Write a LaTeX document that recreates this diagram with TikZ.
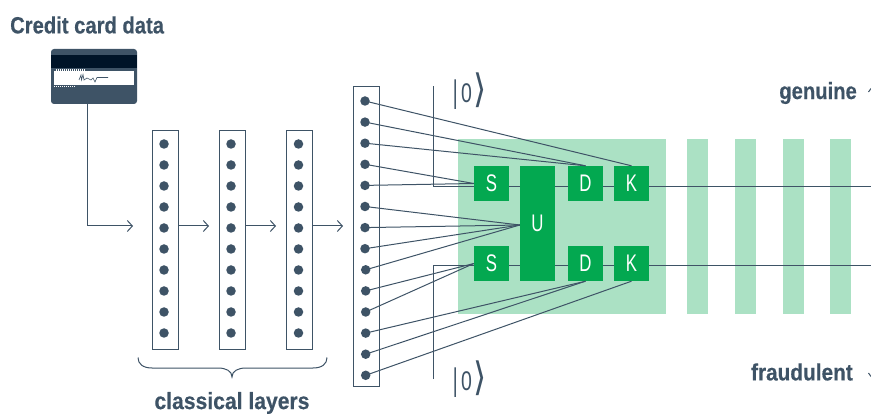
\documentclass[tikz,border=0pt]{standalone}
\usepackage{fontspec}
\usepackage{graphicx}
\usetikzlibrary{arrows.meta,calc}
\setmainfont{Liberation Sans}
\newfontfamily\headfont[FakeStretch=0.86,FakeBold=0.4]{Liberation Sans Bold}
\newfontfamily\gatefont[FakeStretch=0.7]{Liberation Sans}
\newfontfamily\zerofont[FakeStretch=0.72]{Liberation Sans}
\newfontfamily\ketfont{DejaVu Sans}
\definecolor{slate}{HTML}{3E5366}
\definecolor{ink}{HTML}{001428}
\definecolor{gate}{HTML}{03A850}
\definecolor{pale}{HTML}{ABE1C4}
\newcommand{\ketzero}{{\ketfont\fontsize{27}{27}\selectfont\scalebox{0.7}[1.1]{|}}\hspace{2pt}{\zerofont\fontsize{27}{27}\selectfont 0}\hspace{1pt}{\ketfont\fontsize{27}{27}\selectfont\scalebox{1.25}[1.45]{⟩}}}
\tikzset{
  layerbox/.style={draw=slate,line width=1pt,fill=white,minimum width=25.5pt,inner sep=0pt},
  neuron/.style={circle,fill=slate,minimum size=9.5pt,inner sep=0pt},
  gatebox/.style={fill=gate,text=white,minimum width=35pt,minimum height=35pt,inner sep=0pt,font=\gatefont\fontsize{24}{24}\selectfont},
  panel/.style={fill=pale,minimum width=21pt,minimum height=175pt,inner sep=0pt},
  wire/.style={draw=slate,line width=1pt},
  flow/.style={draw=slate,line width=1pt,-{Straight Barb[length=5pt,width=11pt,line width=1pt]}},
  head/.style={text=slate,inner sep=0pt,font=\headfont\fontsize{23.5}{23.5}\selectfont},
  ket/.style={text=slate,inner sep=0pt}
}
\begin{document}
\begin{tikzpicture}[x=1pt,y=-1pt]
\useasboundingbox (0,0) rectangle (871,414);
% green panels
\node[fill=pale,minimum width=208pt,minimum height=175pt,inner sep=0pt] (main) at (562,226.5) {};
\node[panel] (p1) at (697.5,226.5) {};
\node[panel] (p2) at (745.5,226.5) {};
\node[panel] (p3) at (793.5,226.5) {};
\node[panel] (p4) at (840.5,226.5) {};
% titles
\node[head,anchor=west] (title) at (10,25) {Credit card data};
\node[head,anchor=east] (gen) at (857,93) {genuine};
\node[head,anchor=east] (fra) at (853,372) {\scalebox{1.03}[1]{fraudulent}};
\node[head] (cl) at (232,403) {\scalebox{1.045}[1]{classical layers}};
% card
\node[draw=none,fill=slate,rounded corners=3pt,minimum width=86pt,minimum height=55pt,inner sep=0pt] (card) at (94,76.5) {};
\fill[ink] (51,55) rectangle (137,68);
\fill[white] (54,71) rectangle (134,85);
\draw[white,line width=1.5pt,dash pattern=on 1pt off 1pt] (56,70) -- (85,70);
\draw[white,line width=1.5pt,dash pattern=on 1pt off 1pt] (54,86.5) -- (75,86.5);
\draw[slate,line width=.6pt] (79,80) -- (81,75) -- (81.5,80) -- (83,74.5) -- (84,80) -- (87,78) -- (91,80) -- (93,78) -- (95,82) -- (97,77.5) -- (108,77.5);
% layers
\node[layerbox,minimum height=219.5pt] (L1) at (165.25,240.25) {};
\node[layerbox,minimum height=219.5pt] (L2) at (232.25,240.25) {};
\node[layerbox,minimum height=219.5pt] (L3) at (299.25,240.25) {};
\node[layerbox,minimum height=299.5pt] (L4) at (366.5,236.25) {};
\foreach \i in {0,...,9} {
  \node[neuron] (a\i) at (164,{144+21*\i}) {};
  \node[neuron] (b\i) at (231,{144+21*\i}) {};
  \node[neuron] (c\i) at (298.5,{144+21*\i}) {};
}
\foreach \i in {1,...,8} \node[neuron] (d\i) at (365,{101+21.1*(\i-1)}) {};
\foreach \i in {9,...,14} \node[neuron] (d\i) at (365.7,{101+21.1*(\i-1)}) {};
% arrows
\coordinate (bend) at (87,226);
\coordinate (t1) at (133,226);
\coordinate (t2) at (209,226);
\coordinate (t3) at (276,226);
\coordinate (t4) at (343,226);
\coordinate (s1) at (178,226);
\coordinate (s2) at (245,226);
\coordinate (s3) at (312,226);
\coordinate (cardout) at (87,104);
\draw[flow] (cardout) -- (bend) -- (t1);
\draw[flow] (s1) -- (t2);
\draw[flow] (s2) -- (t3);
\draw[flow] (s3) -- (t4);
% qubit wires
\coordinate (q1a) at (433.5,86.5);
\coordinate (q1b) at (433.5,186.5);
\coordinate (q1c) at (871,186.5);
\coordinate (q2a) at (433.5,379);
\coordinate (q2b) at (433.5,265.7);
\coordinate (q2c) at (871,265.7);
\draw[wire] (q1a) -- (q1b) -- (q1c);
\draw[wire] (q2a) -- (q2b) -- (q2c);
% gates
\node[gatebox] (S1) at (491.5,183.5) {S};
\node[gatebox,minimum height=115pt] (U) at (537.5,223.5) {U};
\node[gatebox] (D1) at (585.5,183.5) {D};
\node[gatebox] (K1) at (631.5,183.5) {K};
\node[gatebox] (S2) at (491.5,263.5) {S};
\node[gatebox] (D2) at (585.5,263.5) {D};
\node[gatebox] (K2) at (631.5,263.5) {K};
% connections
\draw[wire] (d1.center) -- (K1.north);
\draw[wire] (d2.center) -- (D1.north);
\draw[wire] (d3.center) -- (D1.north);
\draw[wire] (d4.center) -- (S1.west);
\draw[wire] (d5.center) -- (S1.west);
\foreach \i in {6,7,8,9} \draw[wire] (d\i.center) -- ($(U.west)+(0,1.5)$);
\draw[wire] (d10.center) -- (S2.west);
\draw[wire] (d11.center) -- (S2.west);
\draw[wire] (d12.center) -- (D2.south);
\draw[wire] (d13.center) -- (D2.south);
\draw[wire] (d14.center) -- (K2.south);
% kets
\node[ket] (k1) at (469.5,91) {\ketzero};
\node[ket] (k2) at (469.5,379) {\ketzero};
% brace
\coordinate (bl) at (138,357.5);
\coordinate (br) at (327,357.5);
\coordinate (btip) at (232,377);
\draw[wire] (bl) .. controls (138,364) and (143,368) .. (152,368) -- (218,368) .. controls (226,368) and (232,371) .. (btip) .. controls (232,371) and (238,368) .. (246,368) -- (313,368) .. controls (322,368) and (327,364) .. (br);
% cropped marks on the right edge
\coordinate (g1) at (871,88.5);
\coordinate (g2) at (868.5,92);
\coordinate (f1) at (871,376.5);
\coordinate (f2) at (868.5,373);
\draw[wire] (g1) -- (g2);
\draw[wire] (f1) -- (f2);
\end{tikzpicture}
\end{document}
